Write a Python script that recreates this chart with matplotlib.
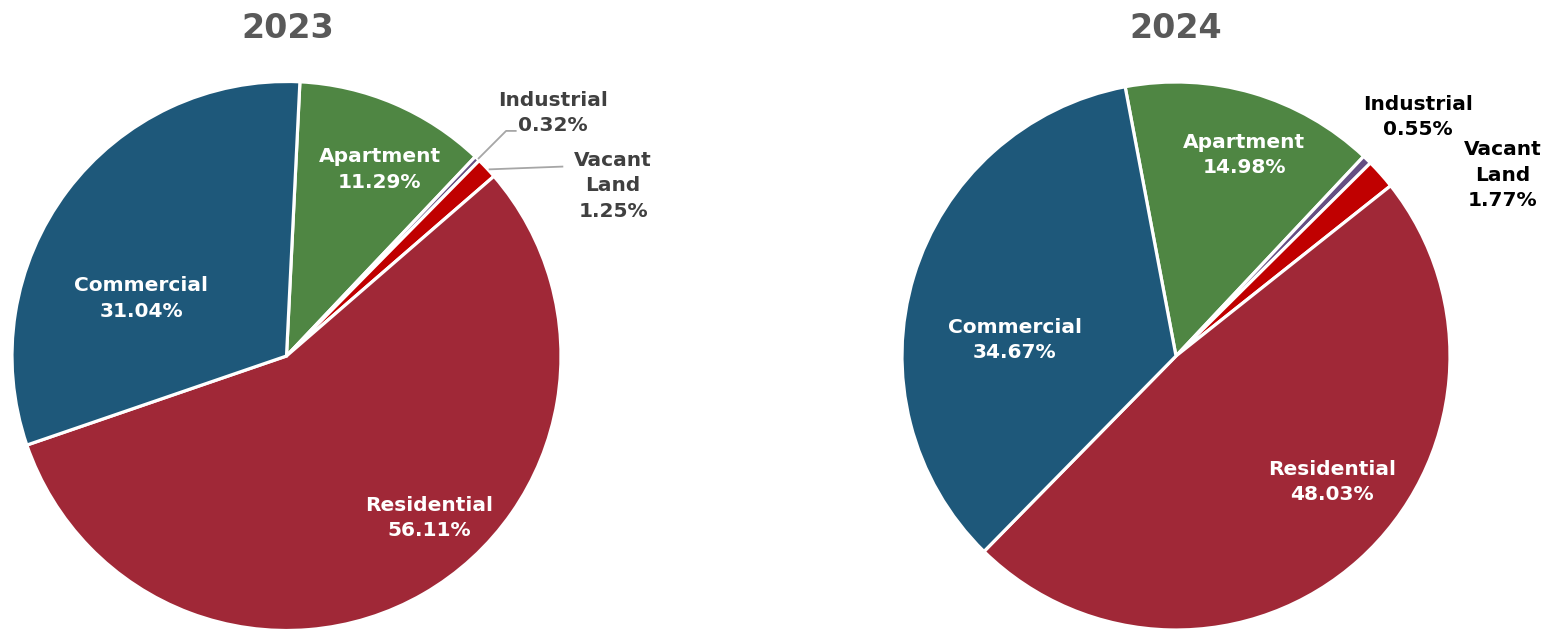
import matplotlib.pyplot as plt

# Parcel mix by property class (% of total)
categories = ['Apartment', 'Industrial', 'Vacant Land', 'Residential', 'Commercial']
shares_2023 = [11.29, 0.32, 1.25, 56.11, 31.04]
shares_2024 = [14.98, 0.55, 1.77, 48.03, 34.67]
years = ['2023', '2024']

colors = ['#4F8643', '#654E83', '#C00000', '#A02837', '#1E587A']
W, H = 1558, 631

fig = plt.figure(figsize=(W / 100, H / 100), dpi=100)
plt.rcParams['font.family'] = 'DejaVu Sans'


def pie_axes(cx, cy, r):
    # square axes in pixel units, so the pie of radius 1 fills it
    ax = fig.add_axes([(cx - r) / W, (H - cy - r) / H, 2 * r / W, 2 * r / H])
    ax.set_xlim(-1, 1)
    ax.set_ylim(-1, 1)
    ax.axis('off')
    return ax


def draw_pie(ax, shares, start):
    wedges, _ = ax.pie(shares, colors=colors, startangle=start, counterclock=False,
                       radius=1, wedgeprops=dict(edgecolor='white', linewidth=2.3))
    for w in wedges:
        w.set_clip_on(False)
    ax.set_xlim(-1, 1)
    ax.set_ylim(-1, 1)
    return wedges


def label(ax, x, y, name, value, color='white'):
    ax.text(x, y, f"{name}\n{value:.2f}%", ha='center', va='center', color=color,
            fontsize=14.5, fontweight='bold', linespacing=1.45, clip_on=False)


# ---- 2023 ----
ax1 = pie_axes(286.5, 356, 274.5)
draw_pie(ax1, shares_2023, 87.2)
label(ax1, -0.53, 0.21, 'Commercial', shares_2023[4])
label(ax1, 0.34, 0.68, 'Apartment', shares_2023[0])
label(ax1, 0.52, -0.59, 'Residential', shares_2023[3])
label(ax1, 0.97, 0.885, 'Industrial', shares_2023[1], color='#404040')
label(ax1, 1.19, 0.62, 'Vacant\nLand', shares_2023[2], color='#404040')
# leader lines for the thin slices
ax1.plot([0.70, 0.80, 0.835], [0.72, 0.82, 0.82], color='#A6A6A6', lw=1.3, clip_on=False)
ax1.plot([0.74, 1.005], [0.68, 0.69], color='#A6A6A6', lw=1.3, clip_on=False)

# ---- 2024 ----
ax2 = pie_axes(1176, 356, 274)
draw_pie(ax2, shares_2024, 100.7)
label(ax2, -0.588, 0.058, 'Commercial', shares_2024[4])
label(ax2, 0.248, 0.734, 'Apartment', shares_2024[0])
label(ax2, 0.569, -0.46, 'Residential', shares_2024[3])
label(ax2, 0.883, 0.872, 'Industrial', shares_2024[1], color='black')
label(ax2, 1.193, 0.66, 'Vacant\nLand', shares_2024[2], color='black')

for x, yr in zip([288, 1176], years):
    fig.text(x / W, 1 - 28 / H, yr, ha='center', va='center', fontsize=24,
             fontweight='bold', color='#595959')

fig.savefig('out.png', dpi=100)
